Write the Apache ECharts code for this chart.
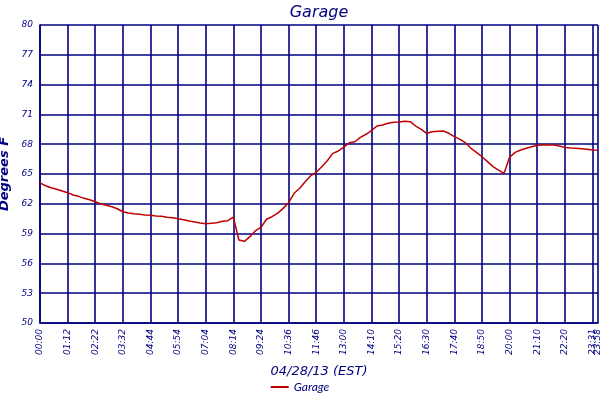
<!DOCTYPE html>
<html><head><meta charset="utf-8">
<script src="https://cdn.jsdelivr.net/npm/echarts@6/dist/echarts.min.js"></script>
<style>html,body{margin:0;padding:0;background:#fff}#c{width:600px;height:400px}</style>
</head><body><div id="c"></div>
<script>
// Tick labels and the sample index at which each one sits
const tickLabels = ['00:00','01:12','02:22','03:32','04:44','05:54','07:04','08:14','09:24','10:36','11:46',
  '13:00','14:10','15:20','16:30','17:40','18:50','20:00','21:10','22:20','23:31','23:58'];
const tickIndex = [0,5,10,15,20,25,30,35,40,45,50,55,60,65,70,75,80,85,90,95,100,101];

// Garage temperature samples (deg F)
const garage = [
  64.1,63.82,63.62,63.46,63.29,63.12,62.89,62.75,62.55,62.41,
  62.21,61.98,61.85,61.71,61.5,61.2,61.07,61.0,60.94,60.87,
  60.84,60.77,60.74,60.64,60.6,60.5,60.4,60.27,60.17,60.07,
  60.0,60.04,60.1,60.24,60.3,60.65,58.36,58.22,58.69,59.29,
  59.63,60.44,60.7,61.04,61.54,62.11,63.06,63.56,64.23,64.83,
  65.17,65.74,66.34,67.08,67.32,67.7,68.15,68.25,68.69,69.0,
  69.36,69.83,69.93,70.1,70.2,70.24,70.3,70.27,69.83,69.5,
  69.1,69.26,69.3,69.33,69.1,68.76,68.49,68.15,67.59,67.18,
  66.74,66.24,65.74,65.4,65.07,66.68,67.18,67.42,67.59,67.75,
  67.89,67.92,67.92,67.92,67.82,67.68,67.62,67.59,67.55,67.49,
  67.42,67.39
];

const categories = garage.map((v, i) => String(i));
const labelAt = {};
tickIndex.forEach((idx, k) => { labelAt[idx] = tickLabels[k]; });
const lastIdx = categories.length - 1;
const isTick = (idx) => labelAt[idx] !== undefined;

const navy = '#000080';
const font = 'DejaVu Sans';
const gw = 1.6;
const labelStyle = {color: navy, fontFamily: font, fontStyle: 'italic', fontSize: 9};
const chart = echarts.init(document.getElementById('c'), null, {renderer: 'canvas'});
chart.setOption({
  animation: false,
  title: {
    text: 'Garage', left: 314, top: 0, textAlign: 'center',
    textStyle: {color: navy, fontFamily: font, fontStyle: 'italic', fontWeight: 'normal', fontSize: 16}
  },
  grid: {left: 40, right: 2, top: 25, bottom: 77, outerBoundsMode: 'none', containLabel: false},
  legend: {
    bottom: 2, left: 'center', icon: 'rect', itemWidth: 18, itemHeight: 2, itemGap: 5,
    textStyle: {color: navy, fontFamily: 'Lato', fontStyle: 'italic', fontSize: 12},
    data: ['Garage']
  },
  xAxis: [{
    type: 'category', data: categories, boundaryGap: false,
    name: '04/28/13 (EST)', nameLocation: 'middle', nameGap: 42,
    nameTextStyle: {color: navy, fontFamily: font, fontStyle: 'italic', fontSize: 13},
    axisLine: {lineStyle: {color: navy, width: gw}},
    axisTick: {show: false},
    axisLabel: Object.assign({
      interval: (idx) => isTick(idx) && idx !== lastIdx, rotate: 90, margin: 6,
      formatter: (v, idx) => labelAt[idx] || ''
    }, labelStyle),
    splitLine: {show: true, interval: (idx) => isTick(idx), lineStyle: {color: navy, width: gw}}
  }, {
    type: 'category', data: categories, boundaryGap: false, position: 'bottom', offset: 0,
    axisLine: {show: false}, axisTick: {show: false}, splitLine: {show: false},
    axisLabel: Object.assign({
      interval: (idx) => idx === lastIdx, rotate: 90, margin: 6,
      formatter: (v, idx) => labelAt[idx] || ''
    }, labelStyle)
  }],
  yAxis: {
    type: 'value', min: 50, max: 80, interval: 3,
    name: 'Degrees F', nameLocation: 'middle', nameGap: 24,
    nameTextStyle: {color: navy, fontFamily: font, fontStyle: 'italic', fontWeight: 'bold', fontSize: 13},
    axisLine: {show: true, lineStyle: {color: navy, width: gw}},
    axisTick: {show: false},
    axisLabel: Object.assign({margin: 7}, labelStyle),
    splitLine: {show: true, lineStyle: {color: navy, width: gw}}
  },
  series: [{
    name: 'Garage', type: 'line', data: garage, xAxisIndex: 0, showSymbol: false, symbol: 'none',
    lineStyle: {color: '#c00000', width: 1.5}, itemStyle: {color: '#c00000'}
  }]
});
</script></body></html>
